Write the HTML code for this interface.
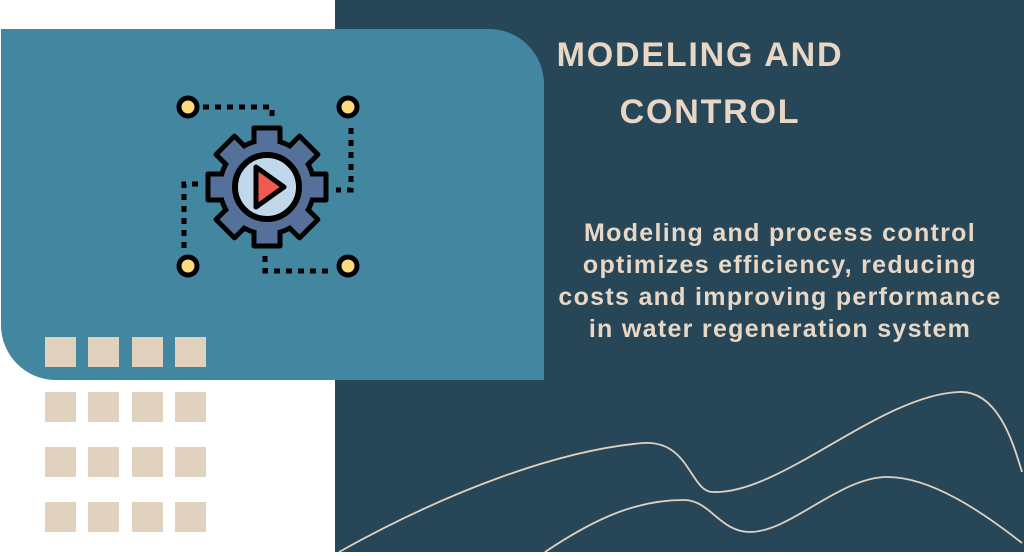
<!DOCTYPE html>
<html><head><style>
html,body{margin:0;padding:0;background:#fff;}
body{width:1024px;height:556px;position:relative;overflow:hidden;font-family:"Liberation Sans",sans-serif;}
.navy{position:absolute;left:335px;top:0;width:689px;height:552px;background:#274759;}
.teal{position:absolute;left:1px;top:29px;width:543px;height:351px;background:#42869f;border-radius:0 55px 0 55px;}
.sq{position:absolute;width:31px;height:30px;background:#e1d1bf;}
.t{position:absolute;color:#e8d7c4;font-weight:bold;text-align:center;white-space:nowrap;}
</style></head><body>
<div class="navy"></div>
<div class="teal"></div>
<div class="sq" style="left:45px;top:337px"></div><div class="sq" style="left:88px;top:337px"></div><div class="sq" style="left:132px;top:337px"></div><div class="sq" style="left:175px;top:337px"></div>
<div class="sq" style="left:45px;top:392px"></div><div class="sq" style="left:88px;top:392px"></div><div class="sq" style="left:132px;top:392px"></div><div class="sq" style="left:175px;top:392px"></div>
<div class="sq" style="left:45px;top:447px"></div><div class="sq" style="left:88px;top:447px"></div><div class="sq" style="left:132px;top:447px"></div><div class="sq" style="left:175px;top:447px"></div>
<div class="sq" style="left:45px;top:502px"></div><div class="sq" style="left:88px;top:502px"></div><div class="sq" style="left:132px;top:502px"></div><div class="sq" style="left:175px;top:502px"></div>
<svg style="position:absolute;left:0;top:0" width="1024" height="556">
<g fill="none" stroke="#000" stroke-width="5" stroke-dasharray="6 6">
<path d="M203 107 H272 V120"/>
<path d="M351 128 V190 H336"/>
<path d="M198 184 H184 V252"/>
<path d="M265 256 V271 H332"/>
</g>
<g fill="#fbdc7a" stroke="#000" stroke-width="5">
<circle cx="188" cy="107" r="9"/><circle cx="348" cy="107" r="9"/>
<circle cx="188" cy="266" r="9"/><circle cx="348" cy="266" r="9"/>
</g>
<g transform="translate(267,187)">
<g fill="#55719a" stroke="#000" stroke-width="5" stroke-linejoin="round">
<rect x="-13" y="-59" width="26" height="118"/>
<rect x="-13" y="-59" width="26" height="118" transform="rotate(45)"/>
<rect x="-13" y="-59" width="26" height="118" transform="rotate(90)"/>
<rect x="-13" y="-59" width="26" height="118" transform="rotate(135)"/>
<circle r="47"/>
</g>
<g fill="#55719a">
<rect x="-10.5" y="-56.5" width="21" height="113"/>
<rect x="-10.5" y="-56.5" width="21" height="113" transform="rotate(45)"/>
<rect x="-10.5" y="-56.5" width="21" height="113" transform="rotate(90)"/>
<rect x="-10.5" y="-56.5" width="21" height="113" transform="rotate(135)"/>
<circle r="44.5"/>
</g>
<circle r="32" fill="#c1d7ea" stroke="#000" stroke-width="6"/>
<path d="M-11 -20 L17 0 L-11 20 Z" fill="#f05a50" stroke="#000" stroke-width="5" stroke-linejoin="round"/>
</g>
<g fill="none" stroke="#e1d1bf" stroke-width="1.8">
<path d="M339 552 C450 490 560 450 643 443 C690 440 690 492 713 492 C780 495 880 395 959 392 C1000 390 1015 450 1022 472"/>
<path d="M545 552 C600 515 640 500 684 500 C710 500 720 532 750 532 C790 532 840 477 887 477 C930 477 980 510 1022 543"/>
</g>
</svg>
<div class="t" style="left:500px;width:400px;top:36px;font-size:34px;line-height:38px;letter-spacing:1.8px;">MODELING AND</div>
<div class="t" style="left:510px;width:400px;top:93px;font-size:34px;line-height:38px;letter-spacing:1.8px;">CONTROL</div>
<div class="t" style="left:540px;width:480px;top:217px;font-size:25px;line-height:32px;letter-spacing:1.3px;">Modeling and process control<br>optimizes efficiency, reducing<br>costs and improving performance<br>in water regeneration system</div>
</body></html>
